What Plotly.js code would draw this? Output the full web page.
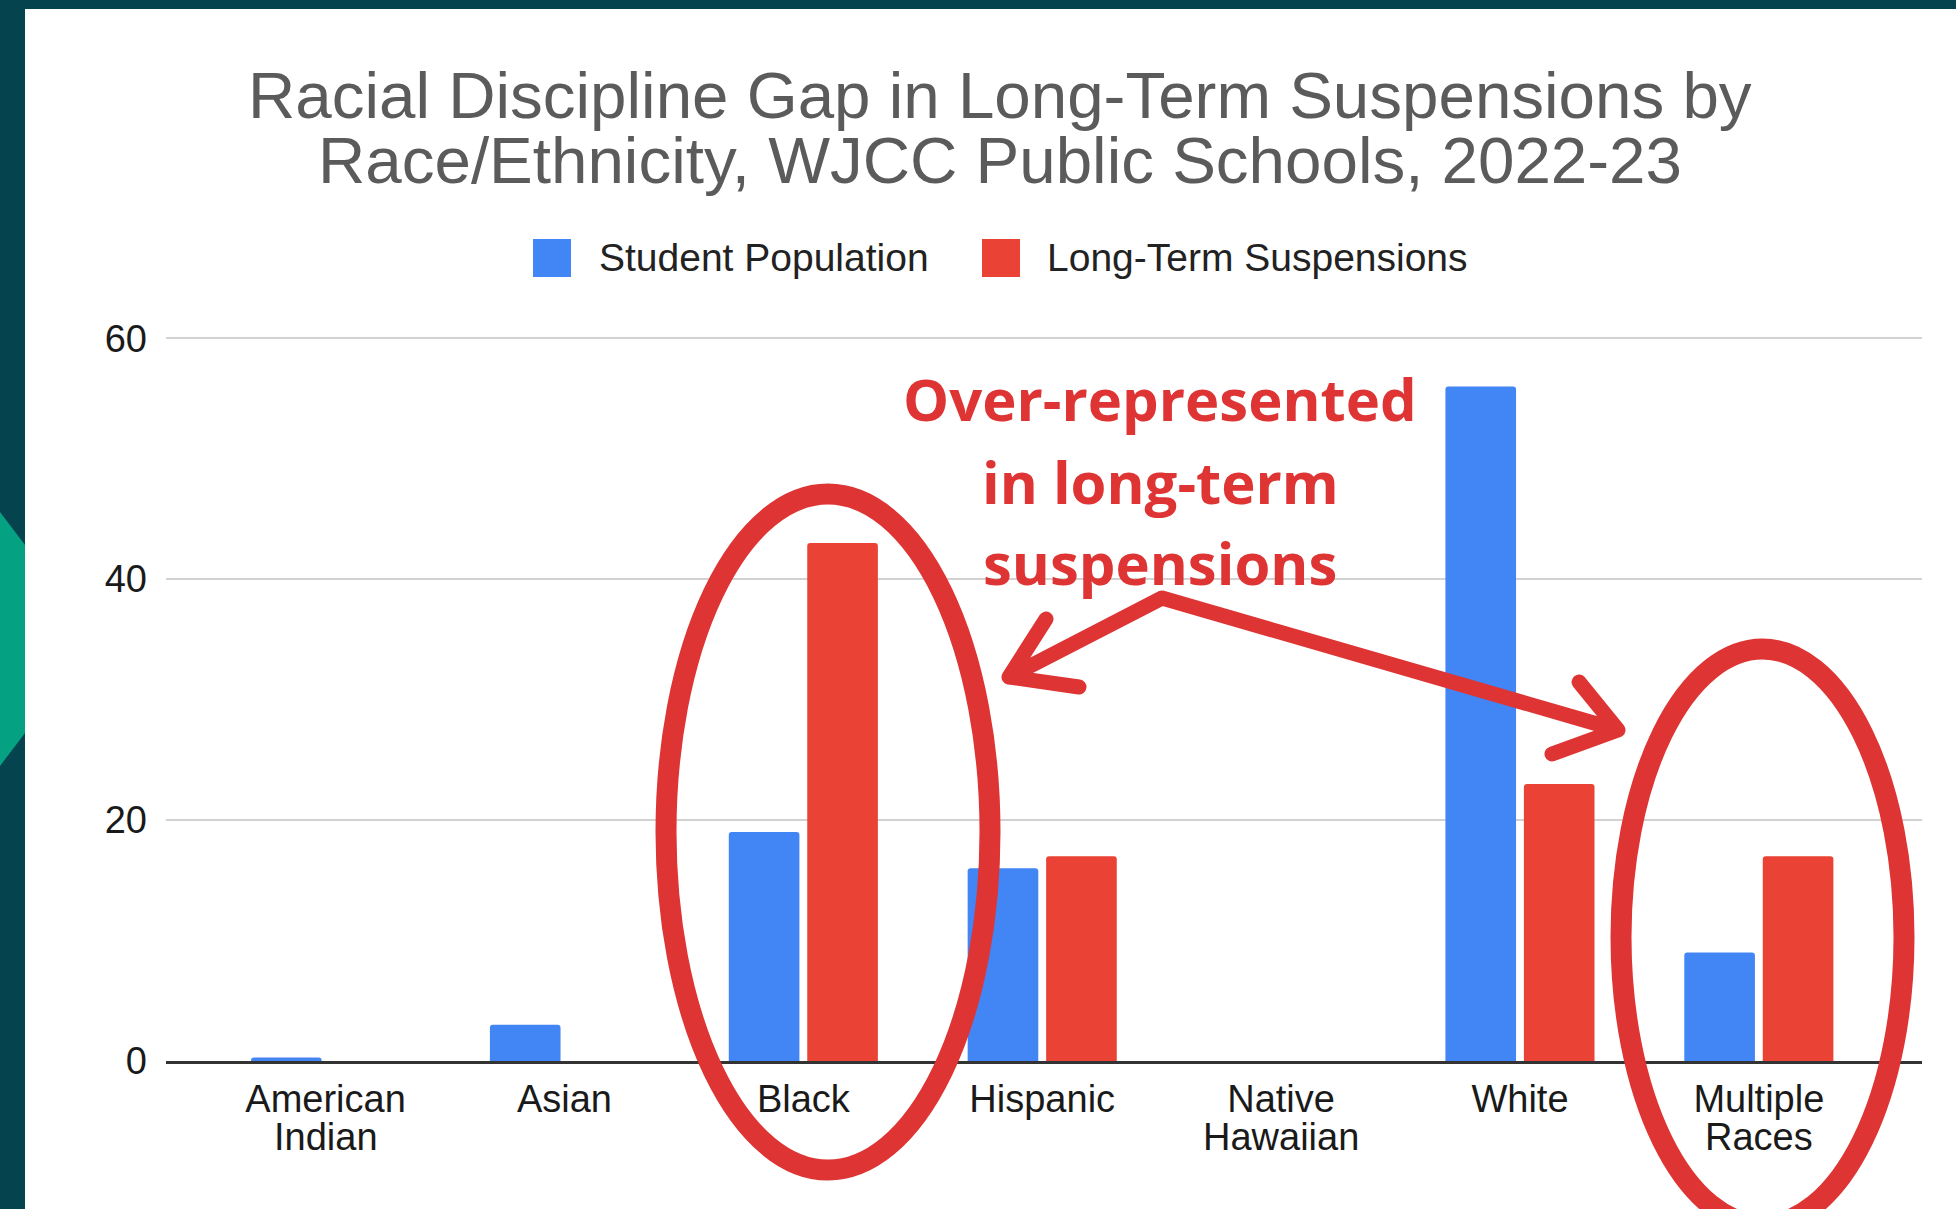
<!DOCTYPE html>
<html>
<head>
<meta charset="utf-8">
<script src="https://cdn.plot.ly/plotly-3.0.1.min.js"></script>
<style>
  html, body { margin: 0; padding: 0; background: #05444f; }
  #chart { width: 1956px; height: 1209px; }
</style>
</head>
<body>
<div id="chart"></div>
<script>
// Share of students and of long-term suspensions by race/ethnicity (percent)
const categories = ['American Indian', 'Asian', 'Black', 'Hispanic', 'Native Hawaiian', 'White', 'Multiple Races'];
const tickLine1 = ['American', 'Asian', 'Black', 'Hispanic', 'Native', 'White', 'Multiple'];
const tickLine2 = ['Indian', '', '', '', 'Hawaiian', '', 'Races'];
const studentPopulation = [0.3, 3, 19, 16, 0, 56, 9];
const longTermSuspensions = [0, 0, 43, 17, 0, 23, 17];
const seriesNames = ['Student Population', 'Long-Term Suspensions'];
const yTicks = [0, 20, 40, 60];

const titleLines = ['Racial Discipline Gap in Long-Term Suspensions by',
                    'Race/Ethnicity, WJCC Public Schools, 2022-23'];
const calloutLines = ['Over-represented', 'in long-term', 'suspensions'];

// Page geometry
const W = 1956, H = 1209;
const M = { l: 166, r: 34, t: 337, b: 148 };
const plotW = W - M.l - M.r, plotH = H - M.t - M.b;
const px = x => (x - M.l) / plotW;
const py = y => (H - M.b - y) / plotH;
const pathOf = segs => segs.map(seg =>
  seg.map((p, i) => (i ? 'L' : 'M') + px(p[0]).toFixed(5) + ',' + py(p[1]).toFixed(5)).join(' ')
).join(' ');

const BLUE = '#4285f4', RED = '#ea4335', MARK = '#df3434';
const DARK = '#05444f', GREEN = '#04a283';
const SANS = 'Liberation Sans, Arial, sans-serif';

const traces = [
  { type: 'bar', name: seriesNames[0], x: categories, y: studentPopulation,
    marker: { color: BLUE, cornerradius: 3 }, hoverinfo: 'skip', showlegend: false },
  { type: 'bar', name: seriesNames[1], x: categories, y: longTermSuspensions,
    marker: { color: RED, cornerradius: 3 }, hoverinfo: 'skip', showlegend: false }
];

const shapes = [
  // white card on the dark slide background
  { type: 'rect', xref: 'paper', yref: 'paper', layer: 'below',
    x0: px(25), x1: px(W + 5), y0: py(9), y1: py(H + 5),
    fillcolor: '#ffffff', line: { width: 0 } },
  // green chevron on the left edge
  { type: 'path', xref: 'paper', yref: 'paper', layer: 'below',
    path: pathOf([[[0, 512], [25, 545], [25, 733], [0, 766]]]) + ' Z',
    fillcolor: GREEN, line: { width: 0 } },
  // legend swatches
  { type: 'rect', xref: 'paper', yref: 'paper',
    x0: px(533), x1: px(571), y0: py(239), y1: py(277),
    fillcolor: BLUE, line: { width: 0 } },
  { type: 'rect', xref: 'paper', yref: 'paper',
    x0: px(982), x1: px(1020), y0: py(239), y1: py(277),
    fillcolor: RED, line: { width: 0 } },
  // ellipses around the over-represented groups
  { type: 'circle', xref: 'paper', yref: 'paper',
    x0: px(666), x1: px(990), y0: py(494), y1: py(1170),
    line: { color: MARK, width: 21 } },
  { type: 'circle', xref: 'paper', yref: 'paper',
    x0: px(1621), x1: px(1904), y0: py(649), y1: py(1225),
    line: { color: MARK, width: 21 } },
  // double arrow from the callout to both groups
  { type: 'path', xref: 'paper', yref: 'paper', name: 'callout-arrow',
    path: pathOf([
      [[1046, 619], [1009, 677], [1079, 687]],
      [[1009, 677], [1162, 598], [1618, 730]],
      [[1579, 682], [1618, 730], [1552, 754]]
    ]),
    line: { color: MARK, width: 15 } }
];

const annotations = [
  { text: titleLines[0], xref: 'paper', yref: 'paper', x: px(1000), y: py(95),
    xanchor: 'center', yanchor: 'middle', showarrow: false,
    font: { family: SANS, size: 65.5, color: '#5b5b5b' } },
  { text: titleLines[1], xref: 'paper', yref: 'paper', x: px(1000), y: py(161),
    xanchor: 'center', yanchor: 'middle', showarrow: false,
    font: { family: SANS, size: 65.5, color: '#5b5b5b' } },
  { text: seriesNames[0], xref: 'paper', yref: 'paper', x: px(597), y: py(257),
    xanchor: 'left', yanchor: 'middle', showarrow: false,
    font: { family: SANS, size: 39, color: '#222222' } },
  { text: seriesNames[1], xref: 'paper', yref: 'paper', x: px(1045), y: py(257),
    xanchor: 'left', yanchor: 'middle', showarrow: false,
    font: { family: SANS, size: 39, color: '#222222' } }
];

// callout text, one annotation per line for its looser line spacing
const calloutY = [399, 481, 562];
calloutLines.forEach((t, i) => {
  annotations.push({ text: t, xref: 'paper', yref: 'paper', x: px(1160), y: py(calloutY[i]),
    xanchor: 'center', yanchor: 'middle', showarrow: false,
    font: { family: 'Open Sans, Noto Sans, sans-serif', size: 58, color: MARK, weight: 700 } });
});

// second line of the two-line category labels
categories.forEach((c, i) => {
  if (tickLine2[i]) {
    annotations.push({ text: tickLine2[i], xref: 'x', yref: 'paper', x: c, y: py(1137),
      xanchor: 'center', yanchor: 'middle', showarrow: false,
      font: { family: SANS, size: 38, color: '#1a1a1a' } });
  }
});

const layout = {
  width: W, height: H,
  margin: M,
  paper_bgcolor: DARK,
  plot_bgcolor: 'rgba(0,0,0,0)',
  barmode: 'group',
  bargap: 0.343,
  bargroupgap: 0.1,
  showlegend: false,
  xaxis: {
    type: 'category',
    range: [-0.668, 6.683],
    tickvals: categories, ticktext: tickLine1,
    tickfont: { family: SANS, size: 38, color: '#1a1a1a' },
    ticks: '', ticklabelstandoff: 3,
    showline: true, linecolor: '#333333', linewidth: 2.5,
    showgrid: false, fixedrange: true
  },
  yaxis: {
    range: [0, 60.1],
    tickvals: yTicks,
    tickfont: { family: SANS, size: 38, color: '#1a1a1a' },
    ticks: '', ticklabelstandoff: 18,
    showgrid: true, gridcolor: '#d2d2d2', gridwidth: 2,
    zeroline: false, showline: false, fixedrange: true
  },
  shapes: shapes,
  annotations: annotations
};

Plotly.newPlot('chart', traces, layout, { staticPlot: true, displayModeBar: false }).then(gd => {
  // rounded stroke ends for the hand-drawn arrow
  gd.querySelectorAll('.shapelayer path').forEach(p => {
    p.style.strokeLinecap = 'round';
    p.style.strokeLinejoin = 'round';
  });
});
</script>
</body>
</html>
